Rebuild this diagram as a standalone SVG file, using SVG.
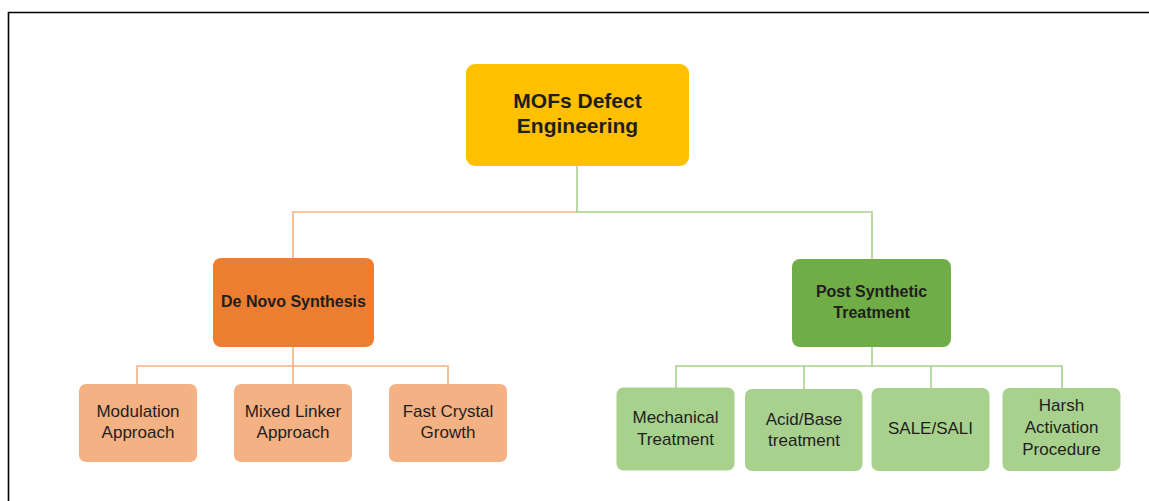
<svg xmlns="http://www.w3.org/2000/svg" width="1149" height="501" viewBox="0 0 1149 501">
<style>
.box{stroke:none}
.root{fill:#FFC000}
.l1o{fill:#ED7D31}
.l1g{fill:#70AD47}
.l2o{fill:#F4B183}
.l2g{fill:#A9D18E}
.t{font-family:"Liberation Sans",Arial,sans-serif;fill:#1e1e1e;text-anchor:middle}
.tb{font-weight:bold}
.c2{font-size:17px}
.co{fill:none;stroke:#F4B183;stroke-width:1.6}
.cg{fill:none;stroke:#A9D18E;stroke-width:1.6}
</style>
<rect width="1149" height="501" fill="#ffffff"/>
<path d="M8.5,501 V12.5 H1149" fill="none" stroke="#000" stroke-width="1.6"/>
<g id="connectors">
<path class="co" d="M577,212 H293 V258 M293,347 V366 M137,384 V366 H448 V384 M293,366 V384"/>
<path class="cg" d="M577,166 V212 H872 V259 M872,347 V366 M676,388 V366 H1062 V388 M804,389 V366 M931,388 V366"/>
</g>
<g id="root">
<rect class="box root" x="466" y="64" width="223" height="102" rx="9"/>
<text class="t tb" x="577.5" y="108" font-size="21">MOFs Defect</text>
<text class="t tb" x="577.5" y="133" font-size="21">Engineering</text>
</g>
<g id="denovo">
<rect class="box l1o" x="213" y="258" width="161" height="89" rx="8"/>
<text class="t tb" x="293.5" y="307" font-size="16">De Novo Synthesis</text>
</g>
<g id="postsynthetic">
<rect class="box l1g" x="792" y="259" width="159" height="88" rx="8"/>
<text class="t tb" x="871.5" y="297" font-size="16">Post Synthetic</text>
<text class="t tb" x="871.5" y="318" font-size="16">Treatment</text>
</g>
<g id="modulation">
<rect class="box l2o" x="79" y="384" width="118" height="78" rx="7"/>
<text class="t c2" x="138" y="417">Modulation</text>
<text class="t c2" x="138" y="438">Approach</text>
</g>
<g id="mixedlinker">
<rect class="box l2o" x="234" y="384" width="118" height="78" rx="7"/>
<text class="t c2" x="293" y="417">Mixed Linker</text>
<text class="t c2" x="293" y="438">Approach</text>
</g>
<g id="fastcrystal">
<rect class="box l2o" x="389" y="384" width="118" height="78" rx="7"/>
<text class="t c2" x="448" y="417">Fast Crystal</text>
<text class="t c2" x="448" y="438">Growth</text>
</g>
<g id="mechanical">
<rect class="box l2g" x="616.5" y="387.5" width="118" height="83" rx="7"/>
<text class="t c2" x="675.5" y="423">Mechanical</text>
<text class="t c2" x="675.5" y="445">Treatment</text>
</g>
<g id="acidbase">
<rect class="box l2g" x="745" y="389" width="117.5" height="82" rx="7"/>
<text class="t c2" x="804" y="424.5">Acid/Base</text>
<text class="t c2" x="804" y="446">treatment</text>
</g>
<g id="salesali">
<rect class="box l2g" x="871.5" y="388" width="118" height="83" rx="7"/>
<text class="t c2" x="930.5" y="434">SALE/SALI</text>
</g>
<g id="harsh">
<rect class="box l2g" x="1002.5" y="388" width="118" height="83" rx="7"/>
<text class="t c2" x="1061.5" y="411">Harsh</text>
<text class="t c2" x="1061.5" y="433">Activation</text>
<text class="t c2" x="1061.5" y="455">Procedure</text>
</g>
</svg>
